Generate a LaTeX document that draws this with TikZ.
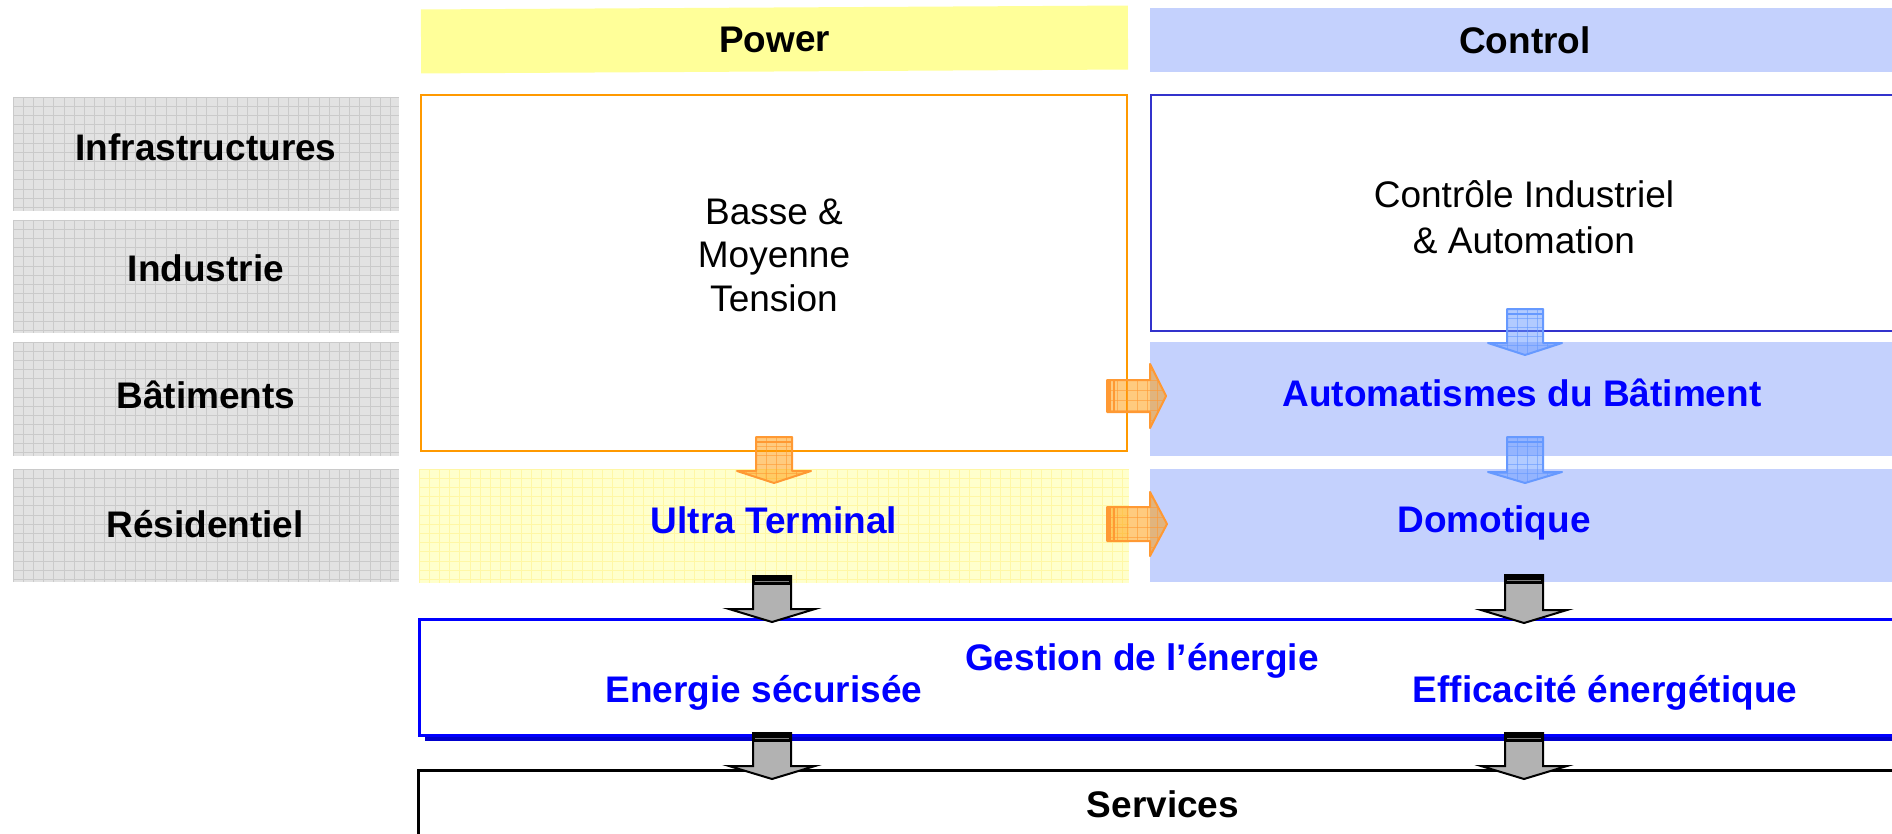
\documentclass[tikz,border=0pt]{standalone}
\usepackage{fontspec}
\setmainfont{Liberation Sans}
\usetikzlibrary{shadows}
\definecolor{grayfill}{RGB}{226,226,226}
\definecolor{graygrid}{RGB}{202,202,202}
\definecolor{headyellow}{RGB}{255,255,153}
\definecolor{headblue}{RGB}{196,209,253}
\definecolor{paleyellow}{RGB}{255,255,204}
\definecolor{yellowgrid}{RGB}{255,247,165}
\definecolor{orangeline}{RGB}{255,153,0}
\definecolor{ctrlline}{RGB}{51,51,204}
\definecolor{txtblue}{RGB}{0,0,255}
\definecolor{shadowblue}{RGB}{0,0,204}
\definecolor{arrorange}{RGB}{255,153,0}
\definecolor{arrorangeline}{RGB}{255,153,51}
\definecolor{arrblue}{RGB}{102,153,255}
\definecolor{arrgray}{RGB}{178,178,178}

\newcommand{\mkdnarrow}[8]{%
 % #1 fill, #2 line, #3 xc, #4 half shaft, #5 half wing, #6 y top, #7 y wing, #8 y tip
 \fill[#1, fill opacity=0.5] (#3-#4,#6) -- (#3+#4,#6) -- (#3+#4,#7) -- (#3+#5,#7) -- (#3,#8) -- (#3-#5,#7) -- (#3-#4,#7) -- cycle;
 \begin{scope}
  \clip (#3-#4,#6) -- (#3+#4,#6) -- (#3+#4,#7) -- (#3+#5,#7) -- (#3,#8) -- (#3-#5,#7) -- (#3-#4,#7) -- cycle;
  \foreach \k in {-3,...,4} {\draw[#2, line width=0.7pt, opacity=0.6] (#3-#4+\k*10,#6) -- (#3-#4+\k*10,#8);}
  \foreach \k in {1,...,5} {\draw[#2, line width=0.7pt, opacity=0.6] (#3-#5,#6+\k*9) -- (#3+#5,#6+\k*9);}
 \end{scope}
 \draw[#2, line width=2pt, line join=round] (#3-#4,#6) -- (#3+#4,#6) -- (#3+#4,#7) -- (#3+#5,#7) -- (#3,#8) -- (#3-#5,#7) -- (#3-#4,#7) -- cycle;
 \draw[#2, line width=1.2pt] (#3-#4,#6+5) -- (#3+#4,#6+5);
}
\newcommand{\mkrtarrow}[8]{%
 % #1 fill, #2 line, #3 yc, #4 half shaft, #5 half head, #6 x tail, #7 x head base, #8 x tip
 \fill[#1, fill opacity=0.5] (#6,#3-#4) -- (#7,#3-#4) -- (#7,#3-#5) -- (#8,#3) -- (#7,#3+#5) -- (#7,#3+#4) -- (#6,#3+#4) -- cycle;
 \begin{scope}
  \clip (#6,#3-#4) -- (#7,#3-#4) -- (#7,#3-#5) -- (#8,#3) -- (#7,#3+#5) -- (#7,#3+#4) -- (#6,#3+#4) -- cycle;
  \foreach \k in {1,...,6} {\draw[#2, line width=0.7pt, opacity=0.6] (#6+\k*10,#3-#5) -- (#6+\k*10,#3+#5);}
  \foreach \k in {-2,...,5} {\draw[#2, line width=0.7pt, opacity=0.6] (#6,#3-#4+\k*10) -- (#8,#3-#4+\k*10);}
 \end{scope}
 \draw[#2, line width=2pt, line join=round] (#6,#3-#4) -- (#7,#3-#4) -- (#7,#3-#5) -- (#8,#3) -- (#7,#3+#5) -- (#7,#3+#4) -- (#6,#3+#4) -- cycle;
 \fill[#2] (#6,#3-#4) rectangle (#6+4,#3+#4);
 \draw[#2, line width=1.2pt] (#6+7,#3-#4) -- (#6+7,#3+#4);
}
\newcommand{\mkbkarrow}[6]{%
 % #1 xc, #2 half shaft, #3 half wing, #4 y top, #5 y wing, #6 y tip
 \draw[black, fill=arrgray, line width=2pt, line join=miter] (#1-#2,#4) -- (#1+#2,#4) -- (#1+#2,#5) -- (#1+#3,#5) -- (#1,#6) -- (#1-#3,#5) -- (#1-#2,#5) -- cycle;
 \fill[black] (#1-#2-1,#4-1) rectangle (#1+#2+1,#4+9);
 \draw[gray, line width=0.8pt] (#1-#2+2,#4+5.5) -- (#1+#2-2,#4+5.5);
}

\tikzset{
 gridfill/.style={path picture={
   \foreach \k in {0,...,75}{
     \draw[#1, line width=0.9pt] ([xshift=\k*10.2pt]path picture bounding box.north west) -- ([xshift=\k*10.2pt]path picture bounding box.south west);
     \draw[#1, line width=0.9pt] ([yshift=-\k*9.2pt]path picture bounding box.north west) -- ([yshift=-\k*9.2pt]path picture bounding box.north east);
   }}},
 hdr/.style={inner sep=0, outer sep=0, font=\fontsize{37}{44}\selectfont\bfseries},
 graybox/.style={inner sep=0, outer sep=0, fill=grayfill, gridfill=graygrid, minimum width=386},
 plainbox/.style={inner sep=0, outer sep=0, anchor=north west},
 lbl/.style={inner sep=0, anchor=base, font=\fontsize{37}{44}\selectfont\bfseries},
 blbl/.style={lbl, text=txtblue},
 nlbl/.style={inner sep=0, anchor=base, font=\fontsize{37}{44}\selectfont},
}

\begin{document}
\begin{tikzpicture}[x=1pt,y=-1pt]
\useasboundingbox (0,0) rectangle (1892,834);
\clip (0,0) rectangle (1892,834);
\fill[white] (0,0) rectangle (1892,834);

% headers
\node[hdr, fill=headyellow, minimum width=707, minimum height=64, rotate=0.32] (hpower) at (774.5,39.5) {Power};
\node[hdr, fill=headblue, minimum width=750, minimum height=64] (hcontrol) at (1525,40) {Control};

% left gray boxes
\node[graybox, minimum height=114] (g1) at (206,154) {};
\node[graybox, minimum height=113] (g2) at (206,276.5) {};
\node[graybox, minimum height=114] (g3) at (206,399) {};
\node[graybox, minimum height=113] (g4) at (206,525.5) {};
\node[lbl] (t1) at (206,161) {Infrastructures};
\node[lbl] (t2) at (206,282) {Industrie};
\node[lbl] (t3) at (206,408) {Bâtiments};
\node[lbl] (t4) at (205,537) {Résidentiel};

% power column
\node[plainbox, draw=orangeline, line width=2pt, minimum width=706, minimum height=356] (bmt) at (421,95) {};
\node[nlbl] (b1) at (774,225) {Basse \&};
\node[nlbl] (b2) at (774,268) {Moyenne};
\node[nlbl] (b3) at (774,311) {Tension};
\node[plainbox, fill=paleyellow, gridfill=yellowgrid, minimum width=710, minimum height=114] (ultra) at (419,469) {};
\node[blbl] (tultra) at (774,533) {Ultra Terminal};

% control column
\node[plainbox, draw=ctrlline, line width=2.2pt, minimum width=760, minimum height=236] (cia) at (1151,95) {};
\node[nlbl] (c1) at (1524,208) {Contrôle Industriel};
\node[nlbl] (c2) at (1524,254) {\& Automation};
\node[plainbox, fill=headblue, minimum width=760, minimum height=114] (auto) at (1150,342) {};
\node[blbl] (tauto) at (1522,406) {Automatismes du Bâtiment};
\node[plainbox, fill=headblue, minimum width=760, minimum height=113] (domo) at (1150,469) {};
\node[blbl] (tdomo) at (1494,532) {Domotique};

% energy management
\node[plainbox, draw=txtblue, fill=white, line width=3pt, minimum width=1500, minimum height=116,
      drop shadow={shadow xshift=6pt, shadow yshift=-6pt, fill=shadowblue, opacity=1}] (ener) at (419,619) {};
\node[blbl] (tgest) at (1142,670) {Gestion de l’énergie};
\node[blbl] (tsecu) at (764,702) {Energie sécurisée};
\node[blbl] (teffi) at (1605,702) {Efficacité énergétique};

% services
\node[plainbox, draw=black, line width=2.5pt, minimum width=1500, minimum height=100] (serv) at (418.5,770.5) {};
\node[lbl] (tserv) at (1163,817) {Services};

% block arrows
\mkdnarrow{arrorange}{arrorangeline}{774}{18}{37}{437}{471}{483}
\mkrtarrow{arrorange}{arrorangeline}{396}{16}{32}{1107}{1150}{1166}
\mkrtarrow{arrorange}{arrorangeline}{524}{17}{32}{1107}{1150}{1167}
\mkdnarrow{arrblue}{arrblue}{1525}{18}{37}{309}{343}{355}
\mkdnarrow{arrblue}{arrblue}{1525}{18}{37}{437}{472}{483}
\mkbkarrow{772}{19}{43}{576}{609}{622}
\mkbkarrow{1524}{19}{43}{575}{610}{623}
\mkbkarrow{772}{19}{43}{733}{766}{779}
\mkbkarrow{1524}{19}{43}{733}{766}{779}
\end{tikzpicture}
\end{document}
